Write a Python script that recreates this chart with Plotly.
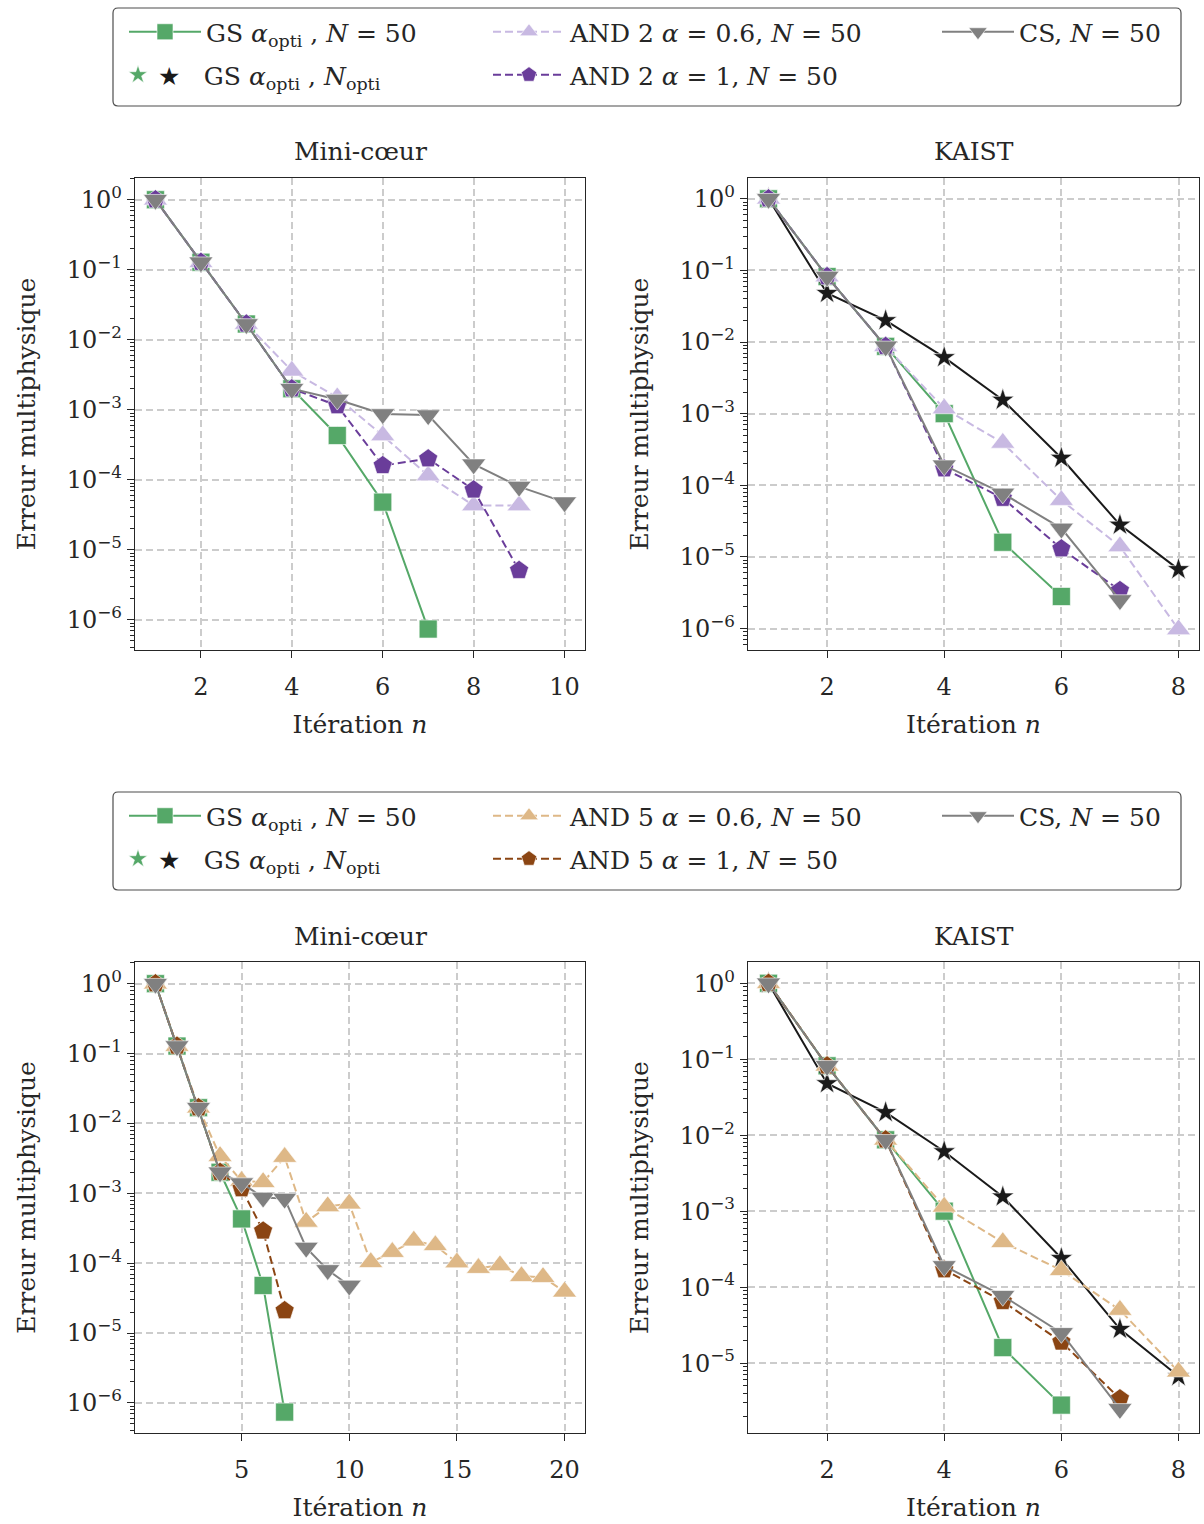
import plotly.graph_objects as go

# ---------------- data ----------------
# Mini-coeur
mini_gs_x = [1, 2, 3, 4, 5, 6, 7]
mini_gs_y = [1.0, 0.128, 0.0168, 2.0e-3, 4.3e-4, 4.8e-5, 7.4e-7]
mini_gsopti_x = [1, 2, 3, 4, 5, 6, 7]
mini_gsopti_y = [1.0, 0.128, 0.0168, 2.0e-3, 4.3e-4, 4.8e-5, 7.4e-7]
mini_and2_06_x = [1, 2, 3, 4, 5, 6, 7, 8, 9]
mini_and2_06_y = [1.0, 0.128, 0.0168, 3.6e-3, 1.5e-3, 4.3e-4, 1.15e-4, 4.3e-5, 4.3e-5]
mini_and2_1_x = [1, 2, 3, 4, 5, 6, 7, 8, 9]
mini_and2_1_y = [1.0, 0.128, 0.0168, 2.0e-3, 1.15e-3, 1.6e-4, 2.0e-4, 7.2e-5, 5.1e-6]
mini_cs_x = [1, 2, 3, 4, 5, 6, 7, 8, 9, 10]
mini_cs_y = [1.0, 0.128, 0.0168, 2.0e-3, 1.4e-3, 8.7e-4, 8.4e-4, 1.67e-4, 8.0e-5, 4.8e-5]
mini_and5_06_x = list(range(1, 21))
mini_and5_06_y = [1.0, 0.128, 0.0168, 3.4e-3, 1.5e-3, 1.44e-3, 3.3e-3, 3.9e-4, 6.5e-4, 7.1e-4,
                  1.03e-4, 1.44e-4, 2.1e-4, 1.8e-4, 1.02e-4, 8.5e-5, 9.3e-5, 6.5e-5, 6.3e-5, 3.9e-5]
mini_and5_1_x = [1, 2, 3, 4, 5, 6, 7]
mini_and5_1_y = [1.0, 0.128, 0.0168, 2.0e-3, 1.17e-3, 2.9e-4, 2.1e-5]

# KAIST
kaist_gs_x = [1, 2, 3, 4, 5, 6]
kaist_gs_y = [1.0, 0.082, 8.7e-3, 1.0e-3, 1.6e-5, 2.8e-6]
kaist_gsopti_x = [1, 2, 3, 4, 5, 6, 7, 8]
kaist_gsopti_y = [1.0, 0.048, 0.020, 6.1e-3, 1.55e-3, 2.4e-4, 2.8e-5, 6.7e-6]
kaist_and2_06_x = [1, 2, 3, 4, 5, 6, 7, 8]
kaist_and2_06_y = [1.0, 0.082, 8.7e-3, 1.18e-3, 3.9e-4, 6.2e-5, 1.4e-5, 9.7e-7]
kaist_and2_1_x = [1, 2, 3, 4, 5, 6, 7]
kaist_and2_1_y = [1.0, 0.082, 8.7e-3, 1.7e-4, 6.6e-5, 1.3e-5, 3.4e-6]
kaist_cs_x = [1, 2, 3, 4, 5, 6, 7]
kaist_cs_y = [1.0, 0.082, 8.7e-3, 1.9e-4, 7.7e-5, 2.5e-5, 2.5e-6]
kaist_and5_06_x = [1, 2, 3, 4, 5, 6, 7, 8]
kaist_and5_06_y = [1.0, 0.082, 8.7e-3, 1.14e-3, 3.9e-4, 1.67e-4, 5.0e-5, 7.7e-6]
kaist_and5_1_x = [1, 2, 3, 4, 5, 6, 7]
kaist_and5_1_y = [1.0, 0.082, 8.7e-3, 1.7e-4, 6.5e-5, 1.9e-5, 3.4e-6]

titles = ["Mini-cœur", "KAIST"]
x_label = "Itération <i>n</i>"
y_label = "Erreur multiphysique"

NB = "\u00a0"
lbl_gs = "GS <i>α</i><sub>opti</sub> , <i>N</i> = 50"
lbl_gsopti = ("<span style='color:#1a1a1a'>★</span>" + NB * 3 +
              "GS <i>α</i><sub>opti</sub> , <i>N</i><sub>opti</sub>")
lbl_and2_06 = "AND 2 <i>α</i> = 0.6, <i>N</i> = 50"
lbl_and2_1 = "AND 2 <i>α</i> = 1, <i>N</i> = 50"
lbl_and5_06 = "AND 5 <i>α</i> = 0.6, <i>N</i> = 50"
lbl_and5_1 = "AND 5 <i>α</i> = 1, <i>N</i> = 50"
lbl_cs = "CS, <i>N</i> = 50"

# ---------------- style ----------------
W, H = 1204, 1524
FONT = "DejaVu Serif"
FS = 25
FT = 24
TXT = "#262626"
GREEN = "#55a868"
BLACK = "#1a1a1a"
LPURPLE = "#c8b9e2"
DPURPLE = "#6a3d9a"
TAN = "#deb887"
BROWN = "#8b4513"
GRAY = "#808080"
DASH = "8px,4px"
SZ = {"square": 18, "star": 17, "triangle-up": 21, "triangle-down": 21, "pentagon": 20}


def px(x):
    return x / W


def py(y):
    return 1 - y / H


fig = go.Figure()


def add(x, y, ax, name, color, symbol, dash="solid", mode="lines+markers",
        legend=None, size=None):
    fig.add_trace(go.Scatter(
        x=x, y=y, xaxis="x" + ax, yaxis="y" + ax, mode=mode, name=name,
        line=dict(color=color, width=2, dash=dash),
        marker=dict(symbol=symbol, size=size or SZ[symbol], color=color,
                    line=dict(color="white", width=0.6)),
        showlegend=legend is not None, legend=legend or "legend",
    ))


# legend slots: group g (0 top, 1 bottom), row r, column c
def slot(g, r, c):
    idx = g * 6 + r * 3 + c + 1
    return "legend" if idx == 1 else "legend%d" % idx


# top-left: Mini-coeur AND2
add(mini_gsopti_x, mini_gsopti_y, "", lbl_gsopti, GREEN, "star", mode="markers",
    legend=slot(0, 1, 0), size=14)
add(mini_gs_x, mini_gs_y, "", lbl_gs, GREEN, "square", legend=slot(0, 0, 0))
add(mini_and2_06_x, mini_and2_06_y, "", lbl_and2_06, LPURPLE, "triangle-up", DASH,
    legend=slot(0, 0, 1))
add(mini_and2_1_x, mini_and2_1_y, "", lbl_and2_1, DPURPLE, "pentagon", DASH,
    legend=slot(0, 1, 1))
add(mini_cs_x, mini_cs_y, "", lbl_cs, GRAY, "triangle-down", legend=slot(0, 0, 2))

# top-right: KAIST AND2
add(kaist_gs_x, kaist_gs_y, "2", lbl_gs, GREEN, "square")
add(kaist_gsopti_x, kaist_gsopti_y, "2", lbl_gsopti, BLACK, "star")
add(kaist_and2_06_x, kaist_and2_06_y, "2", lbl_and2_06, LPURPLE, "triangle-up", DASH)
add(kaist_and2_1_x, kaist_and2_1_y, "2", lbl_and2_1, DPURPLE, "pentagon", DASH)
add(kaist_cs_x, kaist_cs_y, "2", lbl_cs, GRAY, "triangle-down")

# bottom-left: Mini-coeur AND5
add(mini_gsopti_x, mini_gsopti_y, "3", lbl_gsopti, GREEN, "star", mode="markers",
    legend=slot(1, 1, 0), size=14)
add(mini_gs_x, mini_gs_y, "3", lbl_gs, GREEN, "square", legend=slot(1, 0, 0))
add(mini_and5_06_x, mini_and5_06_y, "3", lbl_and5_06, TAN, "triangle-up", DASH,
    legend=slot(1, 0, 1))
add(mini_and5_1_x, mini_and5_1_y, "3", lbl_and5_1, BROWN, "pentagon", DASH,
    legend=slot(1, 1, 1))
add(mini_cs_x, mini_cs_y, "3", lbl_cs, GRAY, "triangle-down", legend=slot(1, 0, 2))

# bottom-right: KAIST AND5
add(kaist_gs_x, kaist_gs_y, "4", lbl_gs, GREEN, "square")
add(kaist_gsopti_x, kaist_gsopti_y, "4", lbl_gsopti, BLACK, "star")
add(kaist_and5_06_x, kaist_and5_06_y, "4", lbl_and5_06, TAN, "triangle-up", DASH)
add(kaist_and5_1_x, kaist_and5_1_y, "4", lbl_and5_1, BROWN, "pentagon", DASH)
add(kaist_cs_x, kaist_cs_y, "4", lbl_cs, GRAY, "triangle-down")

# ---------------- axes ----------------
dec_vals = [10.0 ** e for e in range(0, -8, -1)]
dec_text = ["10<sup>0</sup>"] + ["10<sup>−%d</sup>" % k for k in range(1, 8)]
minor_vals = [m * 10.0 ** e for e in range(-8, 1) for m in range(2, 10)]

axis_common = dict(
    showline=True, mirror=True, linecolor=TXT, linewidth=1.3,
    ticks="outside", ticklen=7, tickwidth=1.3, tickcolor=TXT,
    showgrid=True, gridcolor="#cccccc", gridwidth=2, griddash="7px,4px",
    zeroline=False, automargin=False,
    tickfont=dict(family=FONT, size=FT, color=TXT),
)

panels = {
    "": dict(xd=(135, 585), yd=(178, 650), xr=[0.55, 10.45], yr=[-6.43, 0.31],
             xt=[2, 4, 6, 8, 10]),
    "2": dict(xd=(748, 1199), yd=(178, 650), xr=[0.65, 8.35], yr=[-6.30, 0.29],
              xt=[2, 4, 6, 8]),
    "3": dict(xd=(135, 585), yd=(962, 1433), xr=[0.05, 20.95], yr=[-6.43, 0.31],
              xt=[5, 10, 15, 20]),
    "4": dict(xd=(748, 1199), yd=(962, 1433), xr=[0.65, 8.35], yr=[-5.92, 0.28],
              xt=[2, 4, 6, 8]),
}

layout_axes = {}
for k, p in panels.items():
    xa = "xaxis" + k
    ya = "yaxis" + k
    layout_axes[xa] = dict(
        axis_common, domain=[px(p["xd"][0]), px(p["xd"][1])], range=p["xr"],
        anchor="y" + k, tickmode="array", tickvals=p["xt"], ticklabelstandoff=8,
        title=dict(text=x_label, font=dict(family=FONT, size=FS, color=TXT), standoff=15),
    )
    layout_axes[ya] = dict(
        axis_common, type="log", domain=[py(p["yd"][1]), py(p["yd"][0])], range=p["yr"],
        anchor="x" + k, tickmode="array", tickvals=dec_vals, ticktext=dec_text,
        ticklabelstandoff=0,
        minor=dict(tickmode="array", tickvals=minor_vals, ticks="outside", ticklen=4,
                   tickwidth=1, tickcolor=TXT, showgrid=False),
        title=dict(text=y_label, font=dict(family=FONT, size=FS, color=TXT), standoff=24),
    )

# ---------------- annotations (subplot titles) ----------------
annotations = []
for k, p in panels.items():
    title = titles[0] if k in ("", "3") else titles[1]
    annotations.append(dict(
        text=title, xref="paper", yref="paper",
        x=px((p["xd"][0] + p["xd"][1]) / 2), y=py(p["yd"][0] - 26),
        xanchor="center", yanchor="middle", showarrow=False,
        font=dict(family=FONT, size=FS, color=TXT),
    ))


# ---------------- legend frames ----------------
def rounded(x0, y0, x1, y1, r=5):
    X0, X1 = px(x0), px(x1)
    Y0, Y1 = py(y0), py(y1)
    rx, ry = r / W, r / H
    return (f"M{X0 + rx},{Y0} L{X1 - rx},{Y0} Q{X1},{Y0} {X1},{Y0 - ry} "
            f"L{X1},{Y1 + ry} Q{X1},{Y1} {X1 - rx},{Y1} L{X0 + rx},{Y1} "
            f"Q{X0},{Y1} {X0},{Y1 + ry} L{X0},{Y0 - ry} Q{X0},{Y0} {X0 + rx},{Y0} Z")


shapes = [
    dict(type="path", xref="paper", yref="paper", path=rounded(113, 8, 1181, 106),
         line=dict(color="#4d4d4d", width=1.2), fillcolor="rgba(0,0,0,0)"),
    dict(type="path", xref="paper", yref="paper", path=rounded(113, 792, 1181, 890),
         line=dict(color="#4d4d4d", width=1.2), fillcolor="rgba(0,0,0,0)"),
]

leg_common = dict(
    orientation="v", xanchor="left", yanchor="top", bgcolor="rgba(0,0,0,0)",
    borderwidth=0, font=dict(family=FONT, size=FS, color=TXT),
    itemwidth=72, traceorder="normal",
)
col_x = [124, 488, 937]
legends = {}
for gi, top in enumerate([9, 793]):
    for ri in range(2):
        for ci in range(3):
            if ri == 1 and ci == 2:
                continue
            name = slot(gi, ri, ci)
            if ri == 1 and ci == 0:
                legends[name] = dict(leg_common, itemwidth=30, x=px(118), y=py(top + 43))
            else:
                legends[name] = dict(leg_common, x=px(col_x[ci]), y=py(top + 43 * ri))

fig.update_layout(
    width=W, height=H, margin=dict(l=0, r=0, t=0, b=0),
    paper_bgcolor="white", plot_bgcolor="white",
    font=dict(family=FONT, size=FS, color=TXT),
    annotations=annotations, shapes=shapes,
    **layout_axes, **legends,
)

fig.write_html("out.html", config={"displayModeBar": False},
               post_script="document.body.style.margin='0px';")
